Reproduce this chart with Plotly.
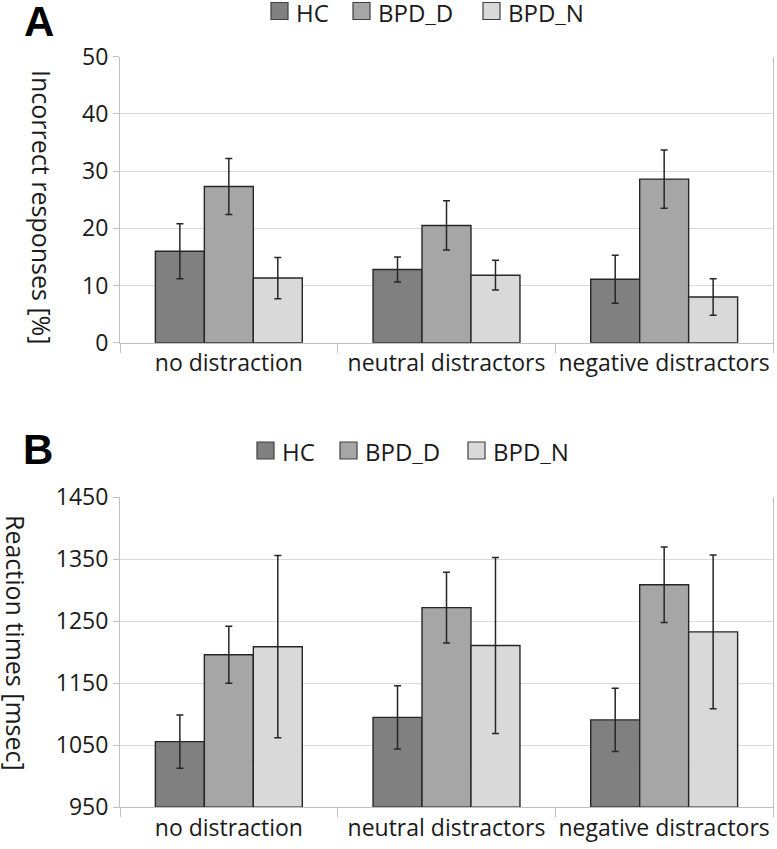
import plotly.graph_objects as go

categories = ["no distraction", "neutral distractors", "negative distractors"]
groups = ["HC", "BPD_D", "BPD_N"]
colors = ["#808080", "#a6a6a6", "#d9d9d9"]

# Panel A: incorrect responses [%]
err_hc = [16.0, 12.8, 11.1]
err_bpdd = [27.3, 20.5, 28.6]
err_bpdn = [11.3, 11.8, 8.0]
err_hc_se = [4.8, 2.2, 4.2]
err_bpdd_se = [4.9, 4.3, 5.1]
err_bpdn_se = [3.6, 2.6, 3.2]

# Panel B: reaction times [msec]
rt_hc = [1056, 1095, 1091]
rt_bpdd = [1196, 1272, 1309]
rt_bpdn = [1209, 1211, 1233]
rt_hc_se = [43, 51, 51]
rt_bpdd_se = [46, 57, 61]
rt_bpdn_se = [147, 142, 124]

yticks_a = [0, 10, 20, 30, 40, 50]
yticks_b = [950, 1050, 1150, 1250, 1350, 1450]

W, H = 777, 849
FONT = "Open Sans, Lato, DejaVu Sans, sans-serif"
EDGE = "#262626"
AXC = "#bfbfbf"
GRID = "#d9d9d9"
TXT = "#1a1a1a"

fig = go.Figure()

data_a = [(err_hc, err_hc_se), (err_bpdd, err_bpdd_se), (err_bpdn, err_bpdn_se)]
data_b = [(rt_hc, rt_hc_se), (rt_bpdd, rt_bpdd_se), (rt_bpdn, rt_bpdn_se)]

for i, g in enumerate(groups):
    vals, se = data_a[i]
    fig.add_trace(go.Bar(
        x=categories, y=vals, name=g, showlegend=False,
        marker=dict(color=colors[i], line=dict(color=EDGE, width=1.4)),
        error_y=dict(type="data", array=se, color=EDGE, thickness=1.5, width=3.5),
        xaxis="x", yaxis="y",
    ))
for i, g in enumerate(groups):
    vals, se = data_b[i]
    fig.add_trace(go.Bar(
        x=categories, y=[v - 950 for v in vals], base=950, name=g, showlegend=False,
        marker=dict(color=colors[i], line=dict(color=EDGE, width=1.4)),
        error_y=dict(type="data", array=se, color=EDGE, thickness=1.5, width=3.5),
        xaxis="x2", yaxis="y2",
    ))

def px_x(p):
    return p / W

def px_y(p):
    return 1 - p / H

x_dom = [px_x(120), px_x(773)]
ya_dom = [px_y(342.7), px_y(56.7)]
yb_dom = [px_y(807.3), px_y(497.3)]

xaxis_common = dict(
    showline=True, linecolor=AXC, linewidth=1,
    ticks="outside", tickson="boundaries", ticklen=9, tickcolor=AXC, tickwidth=1,
    tickfont=dict(family=FONT, size=23, color=TXT), tickangle=0,
    showgrid=False, domain=x_dom, fixedrange=True, automargin=False,
)
yaxis_common = dict(
    showline=True, linecolor=AXC, linewidth=1, mirror=True,
    ticks="outside", ticklen=6, tickcolor=AXC, tickwidth=1,
    tickfont=dict(family=FONT, size=23, color=TXT),
    showgrid=True, gridcolor=GRID, gridwidth=1, zeroline=False, automargin=False,
    fixedrange=True,
)

fig.update_layout(
    width=W, height=H,
    margin=dict(l=0, r=0, t=0, b=0, autoexpand=False),
    paper_bgcolor="white", plot_bgcolor="white",
    barmode="group", bargap=0.325, bargroupgap=0,
    font=dict(family=FONT, color=TXT),
    xaxis=dict(**xaxis_common, anchor="y"),
    xaxis2=dict(**xaxis_common, anchor="y2"),
    yaxis=dict(**yaxis_common, domain=ya_dom, range=[0, 50], tickvals=yticks_a, anchor="x"),
    yaxis2=dict(**yaxis_common, domain=yb_dom, range=[950, 1450], tickvals=yticks_b, anchor="x2"),
    showlegend=False,
)

# Custom legends (square swatches + labels)
legend_rows = [
    (11, 12.5, [271, 353, 483]),     # panel A: swatch y center, text y center, swatch left x
    (450.5, 451, [257, 340, 468]),  # panel B
]
for yc, yt, xs in legend_rows:
    for i, g in enumerate(groups):
        x0 = xs[i]
        fig.add_shape(type="rect", xref="paper", yref="paper",
                      x0=px_x(x0), x1=px_x(x0 + 17), y0=px_y(yc + 8.5), y1=px_y(yc - 8.5),
                      fillcolor=colors[i], line=dict(color="#404040", width=1.2))
        fig.add_annotation(text=g, x=px_x(x0 + 24), y=px_y(yt), xref="paper", yref="paper",
                           xanchor="left", yanchor="middle", showarrow=False, borderpad=0,
                           height=26, valign="middle",
                           font=dict(family=FONT, size=24, color=TXT))

fig.add_annotation(text="<b>A</b>", x=px_x(22), y=px_y(22), xref="paper", yref="paper",
                   xanchor="left", yanchor="middle", showarrow=False,
                   font=dict(family="Liberation Sans, Arial, sans-serif", size=42, color="black"))
fig.add_annotation(text="<b>B</b>", x=px_x(21), y=px_y(449), xref="paper", yref="paper",
                   xanchor="left", yanchor="middle", showarrow=False,
                   font=dict(family="Liberation Sans, Arial, sans-serif", size=42, color="black"))

fig.add_annotation(text="Incorrect responses [%]", x=px_x(42), y=px_y(207), xref="paper", yref="paper",
                   xanchor="center", yanchor="middle", showarrow=False, textangle=90,
                   font=dict(family=FONT, size=25, color=TXT))
fig.add_annotation(text="Reaction times [msec]", x=px_x(16), y=px_y(643), xref="paper", yref="paper",
                   xanchor="center", yanchor="middle", showarrow=False, textangle=90,
                   font=dict(family=FONT, size=25, color=TXT))

fig.write_html("out.html",
               config={"displayModeBar": False, "staticPlot": True},
               post_script="document.body.style.margin='0px';document.body.style.overflow='hidden';")
